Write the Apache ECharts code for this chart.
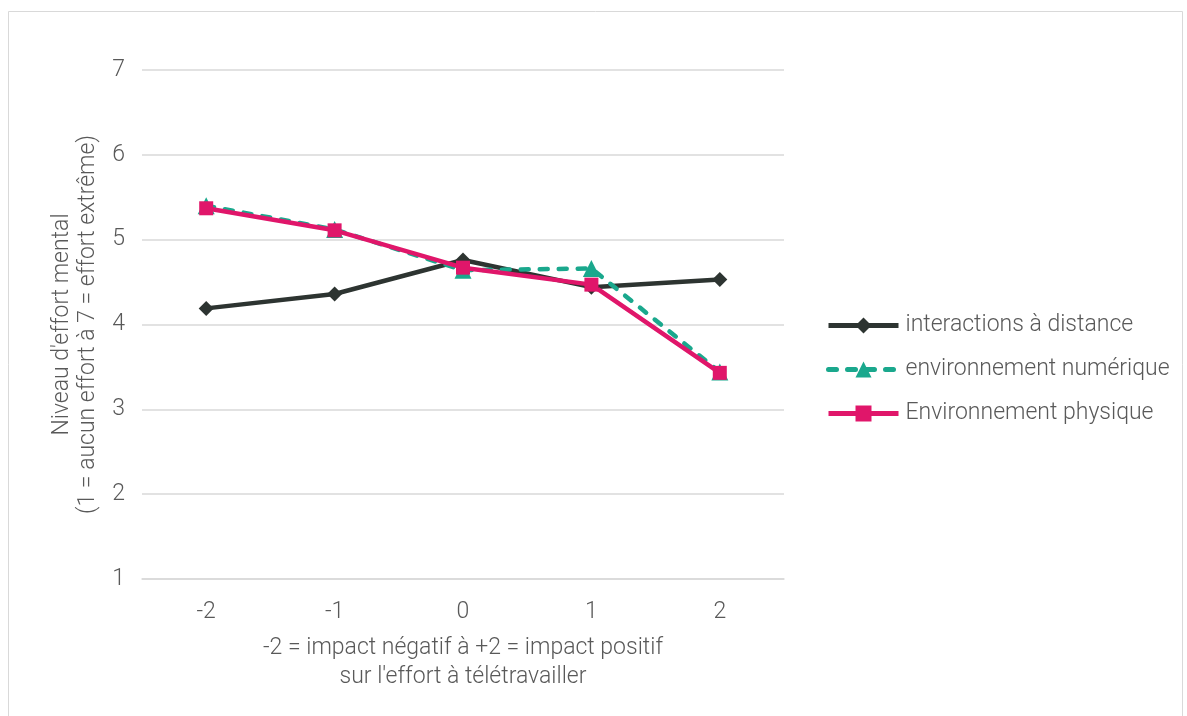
<!DOCTYPE html>
<html><head><meta charset="utf-8">
<script src="https://cdn.jsdelivr.net/npm/echarts@6/dist/echarts.min.js"></script>
<style>html,body{margin:0;padding:0;background:#fff}#c{width:1187px;height:716px}</style>
</head><body><div id="c"></div>
<script>
var categories = ['-2', '-1', '0', '1', '2'];
var interactions = [4.19, 4.36, 4.76, 4.44, 4.53];
var numerique = [5.40, 5.12, 4.64, 4.66, 3.44];
var physique = [5.37, 5.11, 4.67, 4.47, 3.43];
var seriesNames = ['interactions à distance', 'environnement numérique', 'Environnement physique'];
var yTicks = [1, 7, 1];

var chart = echarts.init(document.getElementById('c'));
var font = 'Roboto';
var fw = 300;
var txt = '#595959';
var fs = 23;
chart.setOption({
  animation: false,
  backgroundColor: '#fff',
  graphic: [{type: 'rect', shape: {x: 8.5, y: 11.5, width: 1174, height: 720}, style: {fill: 'none', stroke: '#d9d9d9', lineWidth: 1}}],
  grid: {left: 142, right: 403, top: 70, bottom: 137},
  legend: {
    orient: 'vertical', left: 821, top: 309, itemGap: 21, itemWidth: 70, itemHeight: 20,
    lineStyle: {width: 5},
    textStyle: {fontFamily: font, fontWeight: fw, fontSize: fs, color: txt, padding: [0, 0, 0, 2]},
    data: seriesNames
  },
  xAxis: {
    type: 'category', data: categories, boundaryGap: true,
    axisLine: {show: true, lineStyle: {color: '#d9d9d9', width: 1.5}},
    axisTick: {show: false},
    axisLabel: {fontFamily: font, fontWeight: fw, fontSize: fs, color: txt, margin: 22},
    name: "-2 = impact négatif à +2 = impact positif\nsur l'effort à télétravailler",
    nameLocation: 'middle', nameGap: 55,
    nameTextStyle: {fontFamily: font, fontWeight: fw, fontSize: fs, color: txt, lineHeight: 29}
  },
  yAxis: {
    type: 'value', min: yTicks[0], max: yTicks[1], interval: yTicks[2],
    axisLine: {show: false}, axisTick: {show: false},
    splitLine: {lineStyle: {color: '#d9d9d9', width: 1.5}},
    axisLabel: {fontFamily: font, fontWeight: fw, fontSize: fs, color: txt, margin: 17},
    name: "Niveau d'effort mental\n(1 = aucun effort à 7 = effort extrême)",
    nameLocation: 'middle', nameGap: 41, nameRotate: 90,
    nameTextStyle: {fontFamily: font, fontWeight: fw, fontSize: fs, color: txt, lineHeight: 26}
  },
  series: [
    {name: seriesNames[0], type: 'line', data: interactions, symbol: 'diamond', symbolSize: 15,
     lineStyle: {color: '#2d3431', width: 4.5}, itemStyle: {color: '#2d3431'}},
    {name: seriesNames[1], type: 'line', data: numerique, symbol: 'triangle', symbolSize: 17,
     lineStyle: {color: '#1aa88d', width: 4.5, type: [8, 11], cap: 'round'}, itemStyle: {color: '#1aa88d'}},
    {name: seriesNames[2], type: 'line', data: physique, symbol: 'rect', symbolSize: 14,
     lineStyle: {color: '#e0166a', width: 4.5}, itemStyle: {color: '#e0166a'}}
  ]
});
</script></body></html>
